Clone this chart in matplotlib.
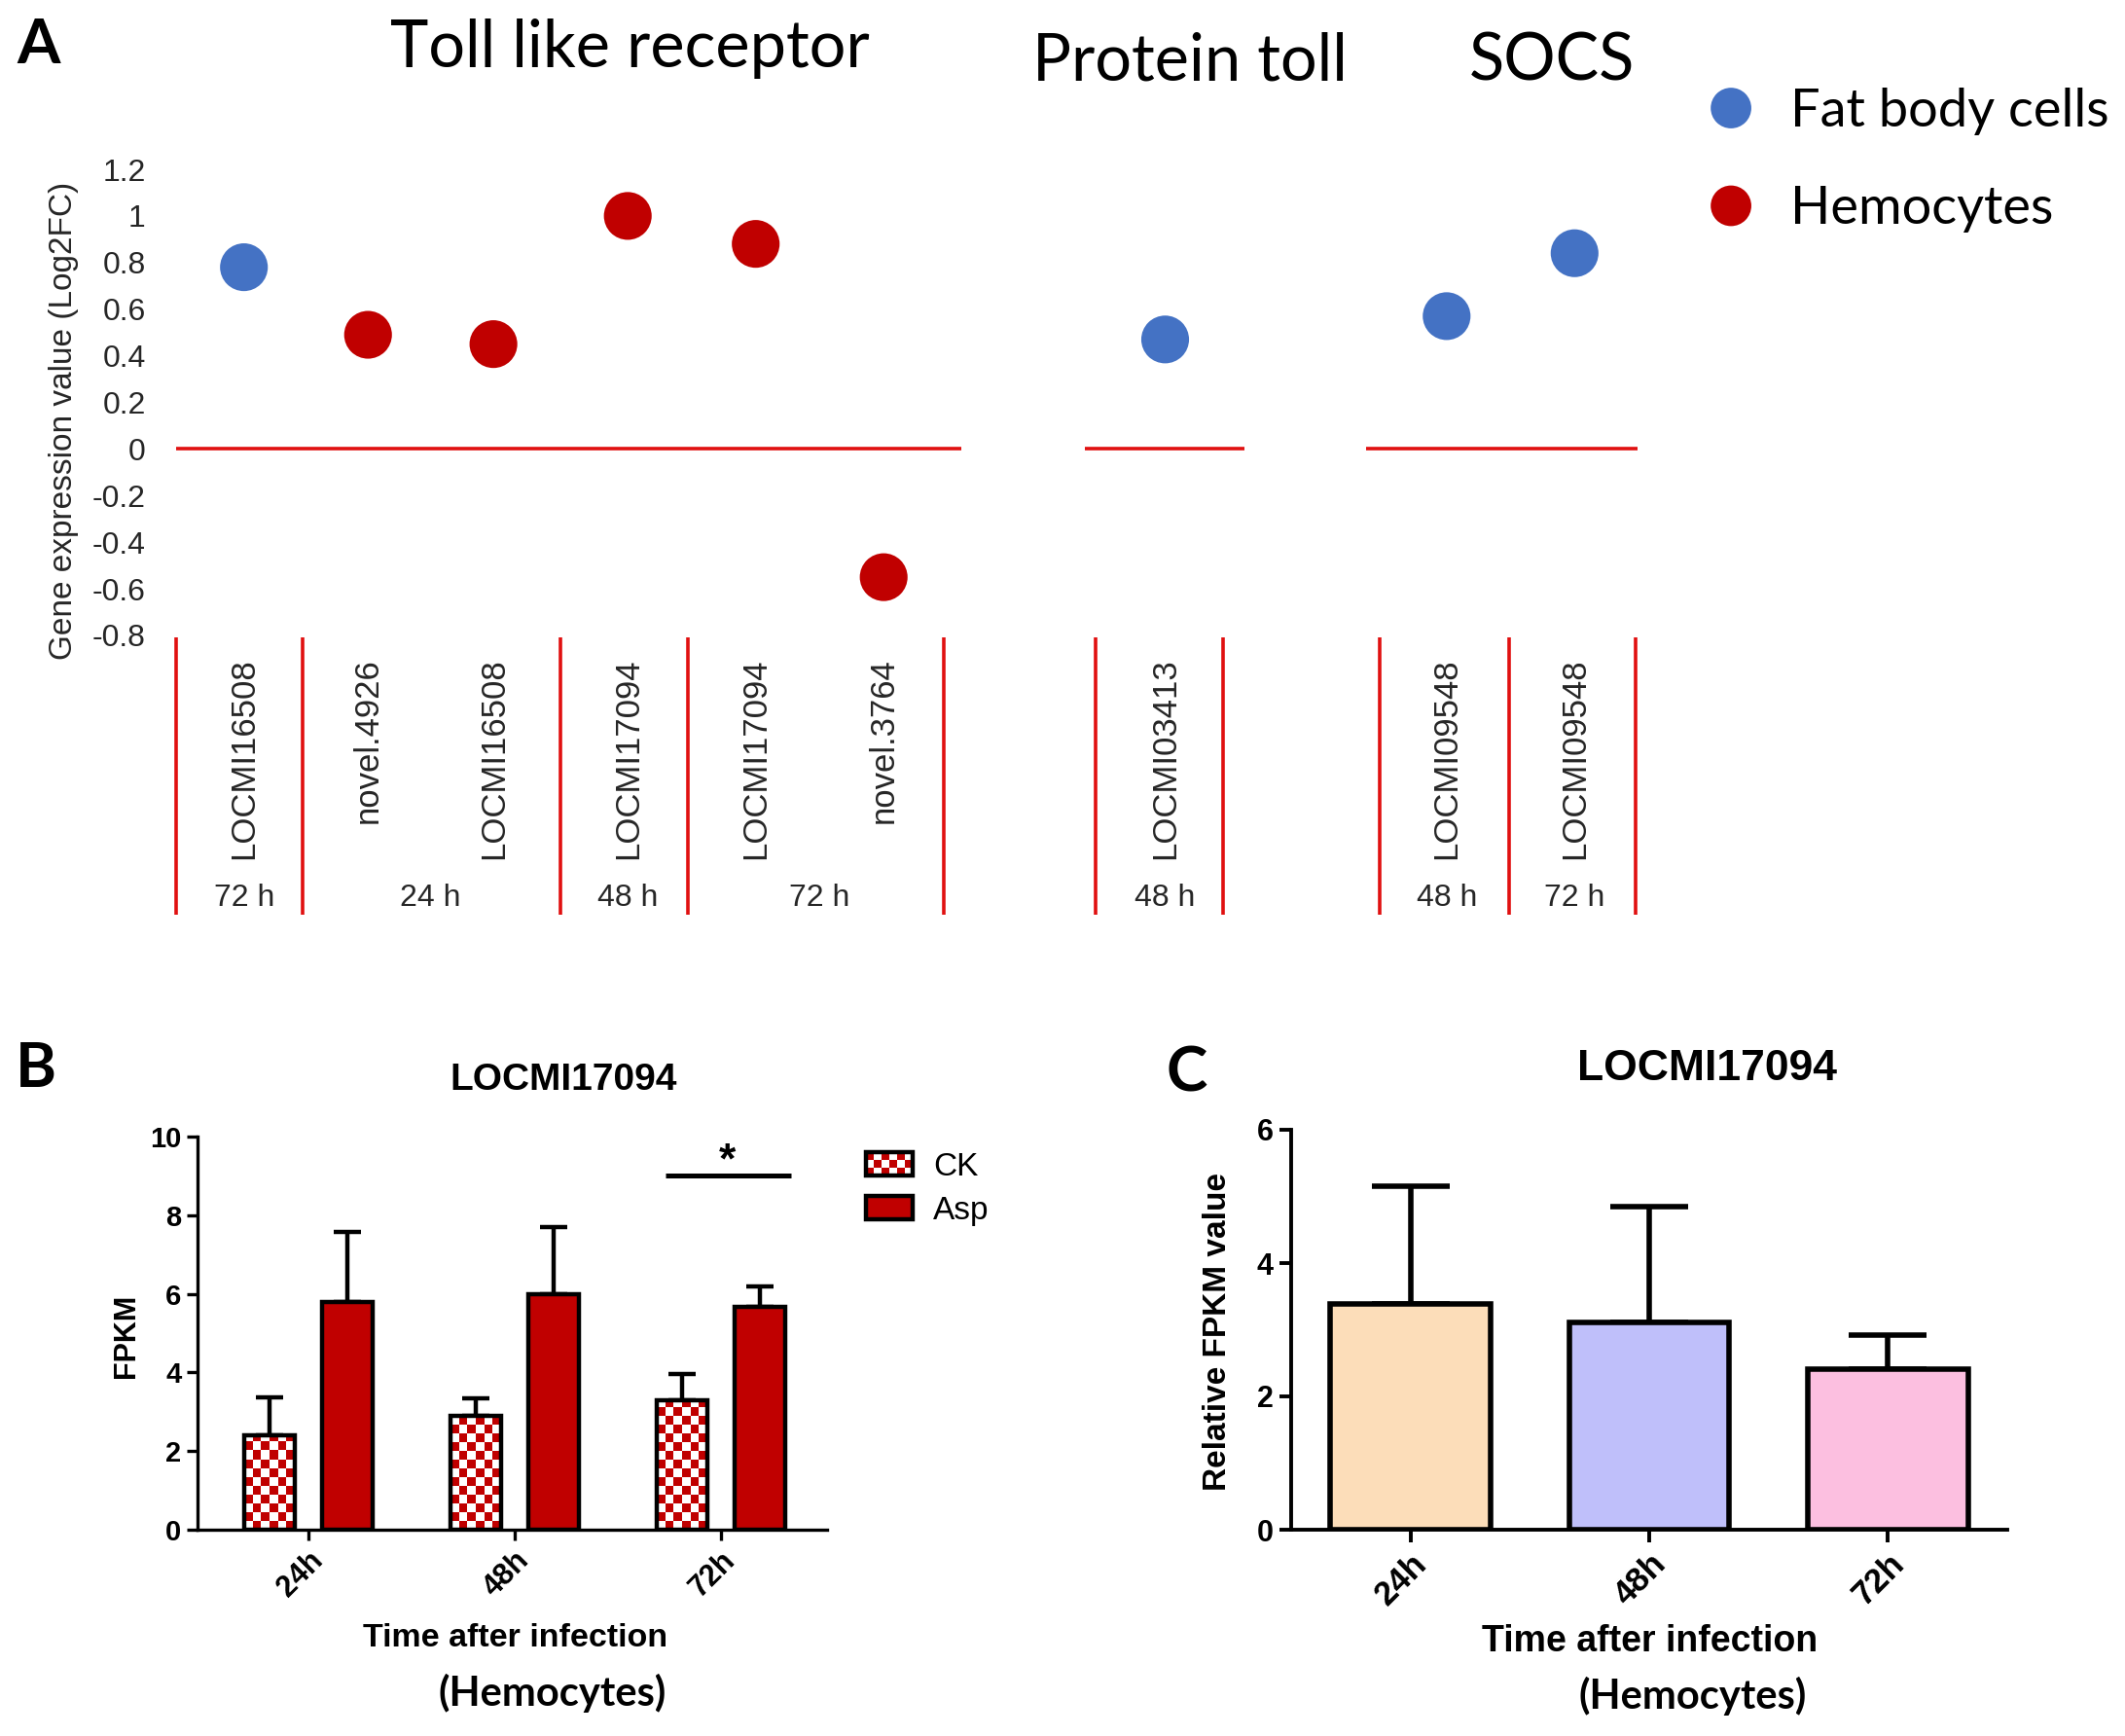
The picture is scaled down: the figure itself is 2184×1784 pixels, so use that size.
import numpy as np
import matplotlib
matplotlib.use("Agg")
import matplotlib.pyplot as plt
from matplotlib.colors import ListedColormap
from matplotlib.legend_handler import HandlerBase
from matplotlib.patches import Rectangle
from matplotlib.transforms import blended_transform_factory

# ------------------------------------------------------------------ data
# Panel A
genes = ["LOCMI16508", "novel.4926", "LOCMI16508", "LOCMI17094", "LOCMI17094",
         "novel.3764", "LOCMI03413", "LOCMI09548", "LOCMI09548"]
tissue = ["Fat body cells", "Hemocytes", "Hemocytes", "Hemocytes", "Hemocytes",
          "Hemocytes", "Fat body cells", "Fat body cells", "Fat body cells"]
log2fc = [0.78, 0.49, 0.45, 1.00, 0.88, -0.55, 0.47, 0.57, 0.84]
time_labels = ["72 h", "24 h", "48 h", "72 h", "48 h", "48 h", "72 h"]
time_members = [[0], [1, 2], [3], [4, 5], [6], [7], [8]]
families = ["Toll like receptor", "Protein toll", "SOCS"]
tissues = ["Fat body cells", "Hemocytes"]
a_yticks = [-0.8, -0.6, -0.4, -0.2, 0.0, 0.2, 0.4, 0.6, 0.8, 1.0, 1.2]
a_ytick_labels = ["-0.8", "-0.6", "-0.4", "-0.2", "0", "0.2", "0.4", "0.6", "0.8", "1", "1.2"]

# Panel B
times = ["24h", "48h", "72h"]
ck_mean = [2.41, 2.89, 3.28]
ck_err = [0.96, 0.44, 0.69]
asp_mean = [5.79, 5.99, 5.66]
asp_err = [1.78, 1.72, 0.54]
b_yticks = [0, 2, 4, 6, 8, 10]

# Panel C
rel_mean = [3.39, 3.11, 2.41]
rel_err = [1.76, 1.74, 0.51]
c_yticks = [0, 2, 4, 6]

# ------------------------------------------------------------------ layout / style
W, H, DPI = 2184, 1784, 100
BLUE, RED = "#4472C4", "#C00000"
LINE_RED = "#E01010"
TISSUE_COLORS = {"Fat body cells": BLUE, "Hemocytes": RED}
C_COLORS = ["#FCDDB9", "#BFBFFA", "#FCBFE0"]
ARIAL = "Liberation Sans"
CALIBRI = "Lato"
TXT = "#262626"

gene_x = [0, 0.97, 1.95, 3.0, 4.0, 5.0, 7.2, 9.4, 10.4]
separators = [-0.53, 0.46, 2.47, 3.47, 5.47, 6.66, 7.65, 8.88, 9.89, 10.88]
zero_segments = [(-0.53, 5.61), (6.57, 7.82), (8.77, 10.89)]
family_x = [3.02, 7.39, 10.22]
family_y = [1.219, 1.19, 1.19]


def fx(px):
    return px / W


def fy(py):
    return 1 - py / H


fig = plt.figure(figsize=(W / DPI, H / DPI), dpi=DPI)

# ------------------------------------------------------------------ Panel A
A_L, A_R, A_T, A_B = 165, 2150, 174, 653
x0_px, unit_px = 250.7, 131.5
axA = fig.add_axes([fx(A_L), fy(A_B), (A_R - A_L) / W, (A_B - A_T) / H])
axA.set_xlim((A_L - x0_px) / unit_px, (A_R - x0_px) / unit_px)
axA.set_ylim(-0.8, 1.2)
for s in axA.spines.values():
    s.set_visible(False)
axA.set_xticks([])
axA.set_yticks(a_yticks)
axA.set_yticklabels(a_ytick_labels, fontsize=23, family=ARIAL, color=TXT)
axA.tick_params(axis="y", length=0, pad=11)
axA.set_ylabel("Gene expression value (Log2FC)", fontsize=24, family=ARIAL, color=TXT)
axA.yaxis.label.set_va("center")
axA.yaxis.set_label_coords((66 - A_L) / (A_R - A_L), (A_B - 432) / (A_B - A_T))

for a, b in zero_segments:
    axA.hlines(0, a, b, color=LINE_RED, lw=2.6, zorder=1)

gx = np.array(gene_x)
gy = np.array(log2fc)
tis = np.array(tissue)
handles = []
for t in tissues:
    m = tis == t
    h = axA.scatter(gx[m], gy[m], s=1250, color=TISSUE_COLORS[t], edgecolors="none",
                    zorder=3, label=t)
    handles.append(h)

axA.legend(handles=handles, loc="upper left", bbox_to_anchor=(fx(1752), fy(90)),
           bbox_transform=fig.transFigure, frameon=False,
           prop={"family": CALIBRI, "size": 39}, handlelength=1.0, handletextpad=0.62,
           labelspacing=0.95, borderpad=0, borderaxespad=0, scatterpoints=1,
           scatteryoffsets=[0.5], markerscale=0.85)

tr = blended_transform_factory(axA.transData, axA.transAxes)
for name, xx, yy in zip(families, family_x, family_y):
    axA.text(xx, yy, name, transform=tr, ha="center", va="baseline",
             fontsize=48, family=CALIBRI, color="black", clip_on=False)

# label strip under panel A
S_T, S_B = 655, 940
axS = fig.add_axes([fx(A_L), fy(S_B), (A_R - A_L) / W, (S_B - S_T) / H])
axS.set_xlim(axA.get_xlim())
axS.set_ylim(0, 1)
axS.axis("off")
axS.vlines(separators, 0, 1, color=LINE_RED, lw=2.6)
for g, xx in zip(genes, gene_x):
    axS.text(xx, 0.926, g, rotation=90, ha="center", va="top", fontsize=25,
             family=ARIAL, color=TXT)
for lab, mem in zip(time_labels, time_members):
    cx = np.mean([gene_x[i] for i in mem])
    axS.text(cx, 0.06, lab, ha="center", va="center", fontsize=23, family=ARIAL,
             color=TXT)

fig.text(fx(40), fy(65), "A", ha="center", va="baseline", fontsize=46,
         family=CALIBRI, fontweight="bold")


# ------------------------------------------------------------------ helpers
class CheckerHandler(HandlerBase):
    def create_artists(self, legend, orig_handle, xdescent, ydescent, width,
                       height, fontsize, trans):
        arts = []
        nx, ny = 6, 3
        for i in range(nx):
            for j in range(ny):
                if (i + j) % 2 == 0:
                    arts.append(Rectangle((-xdescent + i * width / nx,
                                           -ydescent + j * height / ny),
                                          width / nx, height / ny, facecolor=RED,
                                          edgecolor="none", transform=trans))
        arts.append(Rectangle((-xdescent, -ydescent), width, height,
                              facecolor="none", edgecolor="black", lw=3.2,
                              transform=trans))
        return arts


def checker_fill(ax, bar, color, nx=6, sq_px=9.0):
    x0, w, h = bar.get_x(), bar.get_width(), bar.get_height()
    ylo, yhi = ax.get_ylim()
    ax_h_px = ax.get_position().height * H
    dy = sq_px * (yhi - ylo) / ax_h_px
    ny = int(np.ceil(h / dy))
    arr = np.add.outer(np.arange(ny), np.arange(nx)) % 2
    xl, yl = ax.get_xlim(), ax.get_ylim()
    im = ax.imshow(arr, extent=(x0, x0 + w, 0, ny * dy), origin="lower",
                   cmap=ListedColormap(["white", color]), interpolation="nearest",
                   aspect="auto", zorder=bar.get_zorder() - 0.1)
    im.set_clip_path(bar)
    ax.set_xlim(xl)
    ax.set_ylim(yl)


def style_axes(ax, lw):
    for side in ("top", "right"):
        ax.spines[side].set_visible(False)
    for side in ("left", "bottom"):
        ax.spines[side].set_linewidth(lw)


# ------------------------------------------------------------------ Panel B
B_L, B_R, B_T, B_B = 203, 850, 1168, 1572
axB = fig.add_axes([fx(B_L), fy(B_B), (B_R - B_L) / W, (B_B - B_T) / H])
xB = np.arange(len(times))
unitB, tick0 = 212.0, 317.0
axB.set_xlim((B_L - tick0) / unitB, (B_R - tick0) / unitB)
axB.set_ylim(0, 10)
off, bw = 0.187, 0.245
zeros = np.zeros(len(times))
ck_bars = axB.bar(xB - off, ck_mean, bw, facecolor="none", edgecolor="black",
                  lw=3.2, zorder=3)
asp_bars = axB.bar(xB + off, asp_mean, bw, facecolor=RED, edgecolor="black",
                   lw=3.2, zorder=3)
axB.errorbar(xB - off, ck_mean, yerr=[zeros, ck_err], fmt="none", ecolor="black",
             elinewidth=3.2, capsize=10, capthick=3.2, zorder=2)
axB.errorbar(xB + off, asp_mean, yerr=[zeros, asp_err], fmt="none", ecolor="black",
             elinewidth=3.2, capsize=10, capthick=3.2, zorder=2)
for b in ck_bars:
    checker_fill(axB, b, RED)

style_axes(axB, 2.4)
axB.set_yticks(b_yticks)
axB.set_yticklabels([str(v) for v in b_yticks], fontsize=21, family=ARIAL,
                    fontweight="bold")
axB.set_xticks(xB)
axB.set_xticklabels(times, fontsize=22, family=ARIAL, fontweight="bold",
                    rotation=45, ha="right", rotation_mode="anchor")
axB.tick_params(axis="both", direction="out", length=8, width=2.4, pad=4)

# significance bar
axB.plot([1.73, 2.34], [9.0, 9.0], color="black", lw=3.6, solid_capstyle="butt")
axB.text(2.03, 9.35, "*", ha="center", va="center", fontsize=32, family=ARIAL,
         fontweight="bold")

axB.text((579 - B_L) / (B_R - B_L), (B_B - 1110) / (B_B - B_T), "LOCMI17094",
         transform=axB.transAxes, ha="center", va="center", fontsize=28,
         family=ARIAL, fontweight="bold")
axB.set_ylabel("FPKM", fontsize=22, family=ARIAL, fontweight="bold")
axB.yaxis.label.set_va("center")
axB.yaxis.set_label_coords((130 - B_L) / (B_R - B_L), (B_B - 1373) / (B_B - B_T))
axB.set_xlabel("Time after infection", fontsize=24.5, family=ARIAL, fontweight="bold")
axB.xaxis.label.set_va("center")
axB.xaxis.set_label_coords((530 - B_L) / (B_R - B_L), (B_B - 1684) / (B_B - B_T))

ck_proxy = Rectangle((0, 0), 1, 1)
axB.legend(handles=[ck_proxy, asp_bars], labels=["CK", "Asp"], loc="upper left",
           bbox_to_anchor=(fx(890), fy(1184)), bbox_transform=fig.transFigure,
           frameon=False, prop={"family": ARIAL, "size": 24}, handlelength=1.45,
           handleheight=0.72, handletextpad=0.62, labelspacing=0.42, borderpad=0,
           borderaxespad=0, handler_map={ck_proxy: CheckerHandler()})

fig.text(fx(568), fy(1740), "(Hemocytes)", ha="center", va="center", fontsize=30,
         family=CALIBRI, fontweight="bold")
fig.text(fx(37), fy(1117), "B", ha="center", va="baseline", fontsize=46,
         family=CALIBRI, fontweight="bold")

# ------------------------------------------------------------------ Panel C
C_L, C_R, C_T, C_B = 1327, 2063, 1161, 1572
axC = fig.add_axes([fx(C_L), fy(C_B), (C_R - C_L) / W, (C_B - C_T) / H])
xC = np.arange(len(times))
axC.set_xlim(-0.5, 2.5)
axC.set_ylim(0, 6)
axC.bar(xC, rel_mean, 0.67, color=C_COLORS, edgecolor="black", lw=4, zorder=3)
axC.errorbar(xC, rel_mean, yerr=[zeros, rel_err], fmt="none", ecolor="black",
             elinewidth=4, capsize=29, capthick=4, zorder=2)
style_axes(axC, 2.8)
axC.set_yticks(c_yticks)
axC.set_yticklabels([str(v) for v in c_yticks], fontsize=22, family=ARIAL,
                    fontweight="bold")
axC.set_xticks(xC)
axC.set_xticklabels(times, fontsize=25, family=ARIAL, fontweight="bold",
                    rotation=45, ha="right", rotation_mode="anchor")
axC.tick_params(axis="both", direction="out", length=9, width=2.8, pad=4)
axC.text((1755 - C_L) / (C_R - C_L), (C_B - 1099) / (C_B - C_T), "LOCMI17094",
         transform=axC.transAxes, ha="center", va="center", fontsize=32,
         family=ARIAL, fontweight="bold")
axC.set_ylabel("Relative FPKM value", fontsize=24, family=ARIAL, fontweight="bold")
axC.yaxis.label.set_va("center")
axC.yaxis.set_label_coords((1252 - C_L) / (C_R - C_L), (C_B - 1368) / (C_B - C_T))
axC.set_xlabel("Time after infection", fontsize=27, family=ARIAL, fontweight="bold")
axC.xaxis.label.set_va("center")
axC.xaxis.set_label_coords((1696 - C_L) / (C_R - C_L), (C_B - 1687) / (C_B - C_T))

fig.text(fx(1740), fy(1743), "(Hemocytes)", ha="center", va="center", fontsize=30,
         family=CALIBRI, fontweight="bold")
fig.text(fx(1220), fy(1121), "C", ha="center", va="baseline", fontsize=46,
         family=CALIBRI, fontweight="bold")

fig.savefig("out.png", dpi=DPI)
